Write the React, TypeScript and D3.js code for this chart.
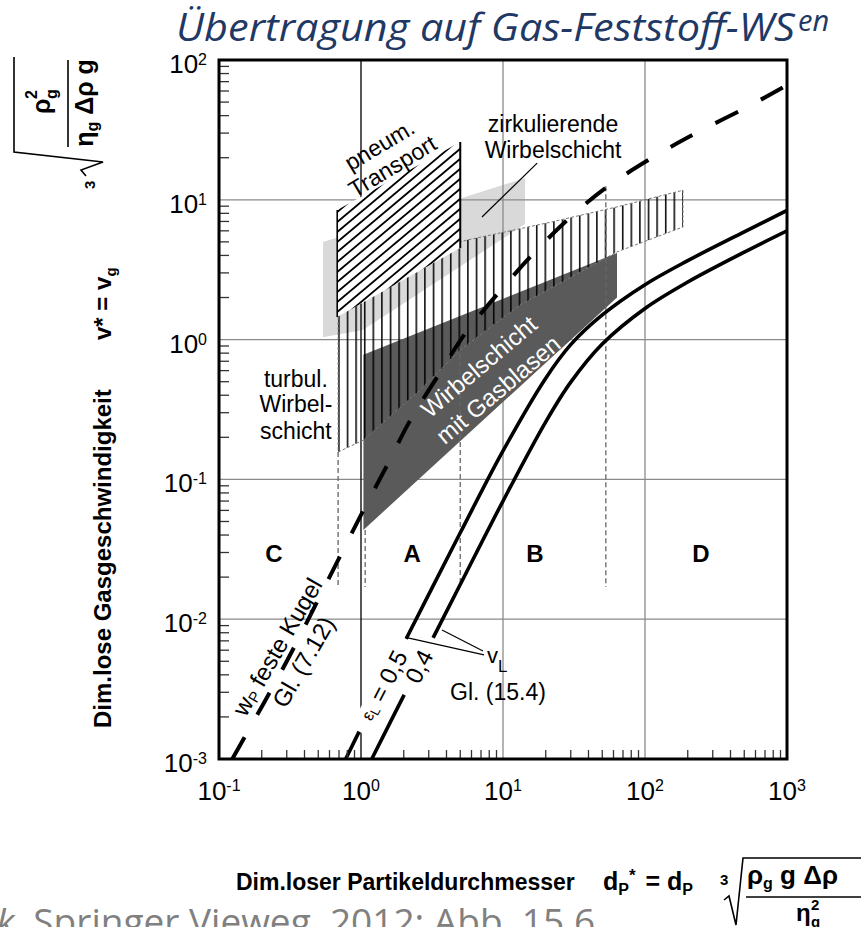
import React from "react";
import * as d3 from "d3";

const W = 861;
const H = 927;
const SANS = "'Liberation Sans', Arial, Helvetica, sans-serif";

// axis ticks
const xTickValues = [0.1, 1, 10, 100, 1000];
const xTickExponents = ["-1", "0", "1", "2", "3"];
const yTickValues = [100, 10, 1, 0.1, 0.01, 0.001];
const yTickExponents = ["2", "1", "0", "-1", "-2", "-3"];

// Sinkgeschwindigkeit feste Kugel wP (Gl. 7.12)
const wpD = [0.124, 0.3, 0.6, 1.03, 1.55, 2.2, 3.6, 5.4, 9.8, 16.3, 30.6, 56.7, 122, 236, 522, 1000];
const wpV = [0.001, 0.005, 0.02, 0.059, 0.13, 0.26, 0.58, 1.1, 2.3, 4.1, 7.7, 12.8, 21, 30.5, 46, 66];

// Lockerungsgeschwindigkeit vL (Gl. 15.4), epsL = 0,5 and 0,4
const vL05D = [0.78, 1, 2, 5, 10, 20, 30, 50, 100, 200, 500, 1000];
const vL05V = [0.001, 0.00167, 0.0067, 0.0415, 0.16, 0.53, 0.92, 1.5, 2.47, 3.67, 5.9, 8.4];
const vL04D = [1.19, 2, 5, 10, 20, 30, 50, 100, 200, 500, 1000];
const vL04V = [0.001, 0.00284, 0.0177, 0.07, 0.258, 0.496, 0.93, 1.67, 2.58, 4.22, 6.0];

// regions (corner points, d*, v*)
const zirkD = [0.54, 14.3, 14.3, 1.03, 0.54];
const zirkV = [5.0, 14.3, 6.7, 1.17, 1.04];
const pneumD = [0.68, 5.0, 5.0, 0.68];
const pneumV = [8.45, 25.9, 4.52, 1.45];
const turbD = [0.69, 5.57, 21.4, 63.5, 185, 185, 63.5, 13.2, 4.98, 2.6, 1.04, 0.69];
const turbV = [2.9, 5.15, 6.9, 8.9, 11.7, 6.39, 4.24, 1.77, 0.84, 0.435, 0.191, 0.157];
const blasenD = [1.04, 63.5, 63.5, 1.04];
const blasenV = [0.78, 4.16, 2.0, 0.0435];

// Geldart group boundaries (dashed)
const boundD = [0.69, 1.07, 5.0, 53];
const boundTop = [0.157, 0.0435, 0.9, 12.5];
const boundBottom = 0.017;

// group letters
const groupLabels = ["C", "A", "B", "D"];
const groupD = [0.244, 2.29, 16.8, 248];
const groupV = 0.0257;

export default function App() {
  const x = d3.scaleLog().domain([0.1, 1000]).range([219, 787]);
  const y = d3.scaleLog().domain([0.001, 100]).range([759, 60]);
  const [xL, xR] = x.range();
  const [yB, yT] = y.range();

  const pts = (ds: number[], vs: number[]) => ds.map((d, i) => [x(d), y(vs[i])] as [number, number]);
  const smooth = d3.line().curve(d3.curveCatmullRom.alpha(0.5));
  const poly = (ds: number[], vs: number[]) => (d3.line()(pts(ds, vs)) as string) + "Z";

  const minorX = x.ticks().filter((v) => Math.abs(Math.log10(v) - Math.round(Math.log10(v))) > 1e-6);
  const minorY = y.ticks().filter((v) => Math.abs(Math.log10(v) - Math.round(Math.log10(v))) > 1e-6);

  // diagonal hatch of pneumatic transport region
  const pxL = x(pneumD[0]);
  const pxR = x(pneumD[1]);
  const pyTop = y(pneumV[1]);
  const pyBot = y(pneumV[3]);
  const slope = Math.tan((40 * Math.PI) / 180);
  const hatchC = d3.range(pyTop - 20, pyBot + slope * (pxR - pxL) + 10, 10);

  const grid = "#8a8a8a";

  return (
    <svg width={W} height={H} viewBox={`0 0 ${W} ${H}`} style={{ position: "absolute", left: 0, top: 0, background: "#fff" }} fontFamily={SANS}>
      <defs>
        <clipPath id="plot">
          <rect x={xL} y={yT} width={xR - xL} height={yB - yT} />
        </clipPath>
        <clipPath id="pneumClip">
          <path d={poly(pneumD, pneumV)} />
        </clipPath>
        <pattern id="vhatch" patternUnits="userSpaceOnUse" x={x(0.69)} y={0} width={8.6} height={10}>
          <line x1={0.8} y1={0} x2={0.8} y2={10} stroke="#000" strokeWidth={1.5} />
        </pattern>
      </defs>

      {/* title */}
      <text x={176} y={41} fontFamily="'Open Sans', sans-serif" fontStyle="italic" fontSize={39} fill="#1f3864" textLength={619} lengthAdjust="spacingAndGlyphs">
        Übertragung auf Gas-Feststoff-WS
      </text>
      <text x={798} y={31} fontFamily="'Open Sans', sans-serif" fontStyle="italic" fontSize={29} fill="#1f3864">en</text>

      <g clipPath="url(#plot)">
        {/* light grey: zirkulierende Wirbelschicht */}
        <path d={poly(zirkD, zirkV)} fill="#d9d9d9" />

        {/* grid */}
        {yTickValues.slice(1, -1).map((v, i) => (
          <line key={"gy" + i} x1={xL} x2={xR} y1={y(v)} y2={y(v)} stroke={grid} strokeWidth={1.3} />
        ))}
        {xTickValues.slice(2, -1).map((v, i) => (
          <line key={"gx" + i} x1={x(v)} x2={x(v)} y1={yT} y2={yB} stroke={grid} strokeWidth={1.3} />
        ))}
        <line x1={x(1)} x2={x(1)} y1={yT} y2={yB} stroke="#111" strokeWidth={1.4} />

        {/* Wirbelschicht mit Gasblasen */}
        <path d={poly(blasenD, blasenV)} fill="#5a5a5a" />

        {/* turbulente Wirbelschicht: vertical hatch */}
        <path d={poly(turbD, turbV)} fill="url(#vhatch)" stroke="#777" strokeWidth={1} strokeDasharray="3 2" />

        {/* pneumatischer Transport */}
        <path d={poly(pneumD, pneumV)} fill="#fff" />
        <g clipPath="url(#pneumClip)">
          {hatchC.map((c, i) => (
            <line key={"h" + i} x1={pxL} y1={c} x2={pxR} y2={c - slope * (pxR - pxL)} stroke="#000" strokeWidth={1.8} />
          ))}
        </g>
        <line x1={pxL} x2={pxL} y1={y(pneumV[0])} y2={y(pneumV[3])} stroke="#000" strokeWidth={1.6} />
        <line x1={pxR} x2={pxR} y1={y(pneumV[1])} y2={y(pneumV[2])} stroke="#000" strokeWidth={2} />

        {/* group boundaries */}
        {boundD.map((d, i) => (
          <line key={"bd" + i} x1={x(d)} x2={x(d)} y1={y(boundTop[i])} y2={y(boundBottom)} stroke="#666" strokeWidth={1.3} strokeDasharray="5 3" />
        ))}

        {/* wP feste Kugel */}
        <path d={smooth(pts(wpD, wpV)) as string} fill="none" stroke="#000" strokeWidth={4} strokeDasharray="25 26" />

        {/* vL curves */}
        <path d={smooth(pts(vL05D, vL05V)) as string} fill="none" stroke="#000" strokeWidth={3.6} />
        <path d={smooth(pts(vL04D, vL04V)) as string} fill="none" stroke="#000" strokeWidth={3.6} />
      </g>

      {/* axis minor ticks */}
      {minorY.map((v, i) => (
        <line key={"ty" + i} x1={xL} x2={xL + 10} y1={y(v)} y2={y(v)} stroke="#333" strokeWidth={1.3} />
      ))}
      {minorX.map((v, i) => (
        <line key={"tx" + i} x1={x(v)} x2={x(v)} y1={yB} y2={yB - 9} stroke="#333" strokeWidth={1.3} />
      ))}

      {/* frame */}
      <rect x={xL} y={yT} width={xR - xL} height={yB - yT} fill="none" stroke="#000" strokeWidth={3} />

      {/* tick labels */}
      {yTickValues.map((v, i) => (
        <text key={"yl" + i} x={207} y={y(v) + 13} textAnchor="end" fontSize={26}>
          10<tspan dy={-8} fontSize={16}>{yTickExponents[i]}</tspan>
        </text>
      ))}
      {xTickValues.map((v, i) => (
        <text key={"xl" + i} x={x(v)} y={800} textAnchor="middle" fontSize={26}>
          10<tspan dy={-9} fontSize={16}>{xTickExponents[i]}</tspan>
        </text>
      ))}

      {/* group letters */}
      {groupLabels.map((g, i) => (
        <text key={"g" + i} x={x(groupD[i])} y={y(groupV)} textAnchor="middle" fontSize={24} fontWeight="bold">{g}</text>
      ))}

      {/* region labels */}
      <g fontSize={23} textAnchor="middle">
        <text x={x(0.348)} y={y(0.458)}>turbul.</text>
        <text x={x(0.348)} y={y(0.303)}>Wirbel-</text>
        <text x={x(0.348)} y={y(0.195)}>schicht</text>
        <text x={x(22.5)} y={y(30.5)}>zirkulierende</text>
        <text x={x(22.5)} y={y(19.9)}>Wirbelschicht</text>
      </g>
      <line x1={x(17.4)} y1={y(18.3)} x2={x(7.11)} y2={y(7.53)} stroke="#000" strokeWidth={1.2} />

      <g transform={`translate(${x(1.5)},${y(20.7)}) rotate(-31)`} fontSize={23} textAnchor="middle">
        <text y={-12.5} dominantBaseline="central">pneum.</text>
        <text y={12.5} dominantBaseline="central">Transport</text>
      </g>

      <g transform={`translate(${x(7.9)},${y(0.531)}) rotate(-40)`} fontSize={24} textAnchor="middle" fill="#fff">
        <text y={-15} dominantBaseline="central">Wirbelschicht</text>
        <text y={15} dominantBaseline="central">mit Gasblasen</text>
      </g>

      {/* wP label */}
      <g transform={`translate(${x(0.318)},${y(0.0056)}) rotate(-60)`} fontSize={24} textAnchor="middle">
        <text y={-15.5} dominantBaseline="central">
          w<tspan fontSize={15} dy={5}>P</tspan><tspan dy={-5}> feste Kugel</tspan>
        </text>
        <text y={15} dominantBaseline="central">Gl. (7.12)</text>
      </g>

      {/* epsL labels on curves */}
      <g transform={`translate(${x(1.43)},${y(0.00336)}) rotate(-63)`}>
        <rect x={-52} y={-10} width={104} height={20} fill="#fff" />
        <text textAnchor="middle" dominantBaseline="central" fontSize={24}>
          <tspan fontSize={17}>ε</tspan><tspan fontSize={13} dy={4}>L</tspan><tspan dy={-4}> = 0,5</tspan>
        </text>
      </g>
      <g transform={`translate(${x(2.56)},${y(0.00459)}) rotate(-63)`}>
        <rect x={-32} y={-10} width={64} height={20} fill="#fff" />
        <text textAnchor="middle" dominantBaseline="central" fontSize={24}>0,4</text>
      </g>

      {/* vL leaders */}
      <line x1={x(2.14)} y1={y(0.00735)} x2={x(7.35)} y2={y(0.00555)} stroke="#000" strokeWidth={1.2} />
      <line x1={x(3.72)} y1={y(0.00838)} x2={x(7.23)} y2={y(0.00593)} stroke="#000" strokeWidth={1.2} />
      <text x={x(7.71)} y={y(0.00486)} fontSize={22}>v<tspan fontSize={17} dy={9}>L</tspan></text>
      <text x={x(4.24)} y={y(0.00264)} fontSize={23}>Gl. (15.4)</text>

      {/* y axis title */}
      <g transform="rotate(-90)" fontWeight="bold">
        <text x={-728} y={111} fontSize={24}>Dim.lose Gasgeschwindigkeit</text>
        <text x={-340} y={111} fontSize={24}>v* = v<tspan fontSize={15} dy={5}>g</tspan></text>
        <text x={-189} y={95} fontSize={15}>3</text>
        <path d="M-176,86 L-170,81 L-162,103 L-152,14 L-57,14" fill="none" stroke="#000" strokeWidth={1.6} />
        <text x={-114} y={50} fontSize={25}>ρ</text>
        <text x={-99} y={37} fontSize={16}>2</text>
        <text x={-99} y={57} fontSize={16}>g</text>
        <line x1={-147} x2={-60} y1={68} y2={68} stroke="#000" strokeWidth={1.6} />
        <text x={-103} y={93} fontSize={25} textAnchor="middle">η<tspan fontSize={16} dy={5}>g</tspan><tspan dy={-5}> Δρ g</tspan></text>
      </g>

      {/* x axis title */}
      <g fontWeight="bold">
        <text x={236} y={890} fontSize={23}>Dim.loser Partikeldurchmesser</text>
        <text x={603} y={890} fontSize={25}>
          d<tspan fontSize={16} dy={5}>P</tspan><tspan fontSize={17} dy={-14}>*</tspan><tspan dx={3} dy={9}> = d</tspan><tspan fontSize={16} dy={5}>P</tspan>
        </text>
        <text x={720} y={885} fontSize={15}>3</text>
        <path d="M724,900 L729,896 L736,925 L743,858 L870,858" fill="none" stroke="#000" strokeWidth={1.6} />
        <text x={747} y={884} fontSize={26}>ρ<tspan fontSize={16} dy={5}>g</tspan><tspan dy={-5}> g Δρ</tspan></text>
        <line x1={746} x2={870} y1={897} y2={897} stroke="#000" strokeWidth={1.6} />
        <text x={796} y={921} fontSize={24}>η</text>
        <text x={811} y={910} fontSize={15}>2</text>
        <text x={811} y={927} fontSize={15}>g</text>
      </g>

      {/* source */}
      <text x={-13} y={935} fontFamily="'Open Sans', sans-serif" fontSize={37} fill="#808080">
        <tspan fontStyle="italic">ik.</tspan> Springer Vieweg, 2012: Abb. 15.6
      </text>
    </svg>
  );
}
